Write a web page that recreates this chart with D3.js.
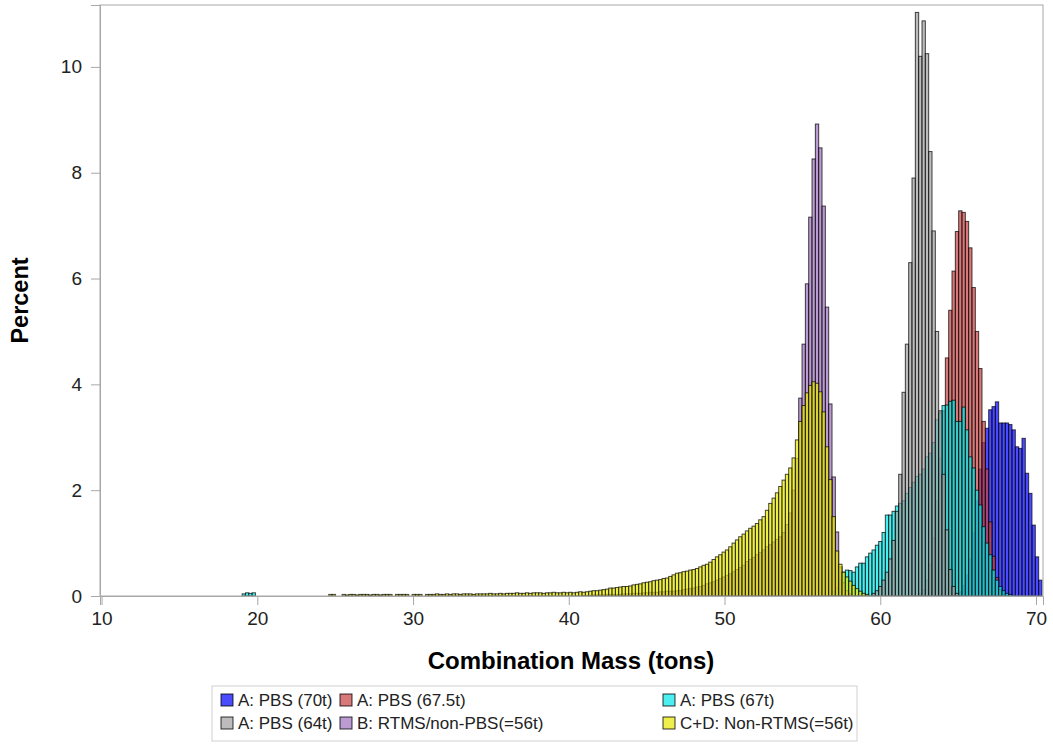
<!DOCTYPE html>
<html>
<head>
<meta charset="utf-8">
<script src="https://cdn.jsdelivr.net/npm/d3@7"></script>
<style>
  html, body { margin: 0; padding: 0; background: #fff; }
  svg { display: block; font-family: Arial, "Liberation Sans", sans-serif; }
</style>
</head>
<body>
<svg id="chart" width="1053" height="744"></svg>
<script>
// ---- Data (percent per bin; bins indexed k, center = binOrigin + k*binWidth) ----
const binWidth = 0.214;
const binOrigin = 55.94;

const seriesNames = ["A: PBS (70t)", "A: PBS (67.5t)", "A: PBS (67t)", "A: PBS (64t)", "B: RTMS/non-PBS(=56t)", "C+D: Non-RTMS(=56t)"];
const seriesColors = ["#0000ff", "#c84040", "#00e8e8", "#a0a0a0", "#a070c0", "#e8e800"];

const pbs70Start = 42;
const pbs70 = [0.03,0.08,0.2,0.4,0.7,1.2,1.8,2.4,2.9,3.17,3.52,3.58,3.67,3.27,3.27,3.27,3.24,3.14,2.82,2.79,2.98,2.32,1.94,1.34,0.74,0.3];

const pbs675Start = 31;
const pbs675 = [0.05,0.12,0.3,0.6,1.1,1.8,2.6,3.5,4.5,5.4,6.14,6.89,7.28,7.25,7.08,6.58,5.83,5.0,4.3,3.3,2.4,1.4,0.75,0.35,0.12,0.04];

const pbs67Start = 5;
const pbs67 = [0.08,0.15,0.3,0.45,0.49,0.48,0.45,0.55,0.62,0.62,0.74,0.81,0.87,0.96,1.03,1.2,1.53,1.53,1.6,1.7,1.75,1.8,1.94,2.05,2.15,2.26,2.3,2.4,2.63,2.7,2.9,3.33,3.46,3.6,3.61,3.68,3.7,3.3,3.3,3.57,3.14,2.63,2.42,2.0,1.72,1.31,1.0,0.78,0.49,0.3,0.18,0.1,0.05,0.03];
const pbs67LowStart = -172;
const pbs67Low = [0.04,0.06,0.05,0.06];

const pbs64Start = 17;
const pbs64 = [0.05,0.1,0.18,0.3,0.45,0.7,1.05,1.6,2.3,3.85,4.76,6.3,7.9,11.03,10.2,10.87,10.25,8.4,6.9,5.0,3.5,2.3,1.25,0.5,0.18,0.05];

const rtmsStart = -70;
const rtms = [0.01,0.01,0.01,0.02,0.02,0.02,0.02,0.03,0.03,0.03,
  0.03,0.03,0.04,0.04,0.04,0.05,0.05,0.05,0.06,0.06,
  0.07,0.07,0.07,0.08,0.08,0.09,0.09,0.09,0.1,0.1,
  0.12,0.13,0.14,0.15,0.17,0.18,0.2,0.23,0.25,0.27,
  0.3,0.33,0.36,0.39,0.42,0.46,0.5,0.54,0.58,0.65,
  0.69,0.73,0.78,0.82,0.87,0.93,0.97,1.02,1.07,1.12,
  1.2,1.35,1.57,2.0,2.6,3.74,4.76,5.9,7.16,8.26,
  8.92,8.47,7.37,5.46,3.63,2.25,1.21,0.55,0.25,0.1,0.04];

const nonRtmsStart = -146;
const nonRtms = [0.03,0.03,0,0,
  0.03,0.02,0.03,0.03,0.02,0.03,0.03,0.03,0.02,0.03,0.03,0.02,0.03,0.03,0.03,
  0,0.03,0.03,0.03,0.03,0,0.03,0.03,0.03,0,
  0.03,0.03,0.03,0.04,0.03,0.03,0.04,0.03,0.04,0.04,0.03,0.04,0.04,0.04,0.03,0.04,0.04,0.04,0.04,0.05,0.04,0.04,0.05,0.04,
  0.05,0.05,0.05,0.06,0.05,0.05,0.06,0.05,0.06,0.06,0.06,0.05,0.06,0.06,0.07,0.06,0.06,0.07,
  0.06,0.07,0.06,0.07,0.08,0.07,0.08,0.09,0.1,0.1,
  0.11,0.12,0.13,0.15,0.15,0.16,0.17,0.18,0.18,0.19,
  0.21,0.22,0.23,0.25,0.26,0.27,0.29,0.3,0.31,0.33,
  0.34,0.37,0.4,0.43,0.44,0.46,0.47,0.49,0.5,0.52,
  0.55,0.58,0.6,0.64,0.69,0.74,0.78,0.83,0.87,0.93,
  1.0,1.06,1.12,1.17,1.23,1.28,1.32,1.37,1.44,1.5,
  1.62,1.75,1.85,1.95,2.07,2.19,2.3,2.42,2.61,2.95,
  3.3,3.6,3.84,3.98,4.05,4.02,3.86,3.48,2.82,2.2,
  1.5,0.85,0.6,0.45,0.36,0.28,0.2,0.14,0.09,0.05,0.03];

const xTicks = [10, 20, 30, 40, 50, 60, 70];
const yTicks = [0, 2, 4, 6, 8, 10];

// ---- Build series ----
function toBins(start, vals) {
  return vals.map((v, i) => ({ c: binOrigin + (start + i) * binWidth, v }));
}
const series = [
  toBins(pbs70Start, pbs70),
  toBins(pbs675Start, pbs675),
  toBins(pbs67LowStart, pbs67Low).concat(toBins(pbs67Start, pbs67)),
  toBins(pbs64Start, pbs64),
  toBins(rtmsStart, rtms),
  toBins(nonRtmsStart, nonRtms)
];

// ---- Layout ----
const L = 100, R = 1043, T = 5, B = 596;
const svg = d3.select("#chart");
const x = d3.scaleLinear().domain([9.9, 70.45]).range([L, R]);
const y = d3.scaleLinear().domain([0, 11.17]).range([B, T]);

svg.append("defs").append("clipPath").attr("id", "plotclip")
  .append("rect").attr("x", L).attr("y", T).attr("width", R - L).attr("height", B - T);

const plot = svg.append("g").attr("clip-path", "url(#plotclip)");
series.forEach((bins, si) => {
  plot.append("g")
    .selectAll("rect")
    .data(bins.filter(d => d.v > 0))
    .join("rect")
    .attr("x", d => x(d.c - binWidth / 2))
    .attr("width", d => x(d.c + binWidth / 2) - x(d.c - binWidth / 2))
    .attr("y", d => y(d.v))
    .attr("height", d => y(0) - y(d.v))
    .attr("fill", seriesColors[si])
    .attr("fill-opacity", 0.7)
    .attr("stroke", "#000")
    .attr("stroke-opacity", 0.72)
    .attr("stroke-width", 1);
});

// Frame
svg.append("rect").attr("x", L).attr("y", T).attr("width", R - L).attr("height", B - T)
  .attr("fill", "none").attr("stroke", "#a8a8a8").attr("stroke-width", 1);

// Axes
const xAxis = svg.append("g").attr("transform", `translate(0,${B})`)
  .call(d3.axisBottom(x).tickValues(xTicks).tickSize(9).tickPadding(7).tickFormat(d3.format("d")));
const yAxis = svg.append("g").attr("transform", `translate(${L},0)`)
  .call(d3.axisLeft(y).tickValues(yTicks).tickSize(9).tickPadding(9).tickFormat(d3.format("d")));
[xAxis, yAxis].forEach(a => {
  a.select(".domain").attr("stroke", "#a8a8a8");
  a.selectAll(".tick line").attr("stroke", "#a8a8a8");
  a.selectAll(".tick text").attr("fill", "#222").style("font-size", "19px")
    .style("font-family", "Arial, 'Liberation Sans', sans-serif");
});

// Axis titles
svg.append("text").attr("x", 571).attr("y", 669).attr("text-anchor", "middle")
  .style("font-size", "24px").style("font-weight", "bold").attr("fill", "#000")
  .text("Combination Mass (tons)");
svg.append("text").attr("transform", `translate(28,${(T + B) / 2}) rotate(-90)`).attr("text-anchor", "middle")
  .style("font-size", "23.5px").style("font-weight", "bold").attr("fill", "#000")
  .text("Percent");

// Legend
const legend = svg.append("g");
legend.append("rect").attr("x", 212).attr("y", 686).attr("width", 645).attr("height", 55)
  .attr("fill", "#fff").attr("stroke", "#d0d0d0");
const colX = [221, 340, 663];
seriesNames.forEach((name, i) => {
  const cx = colX[i % 3], cy = i < 3 ? 700 : 723;
  legend.append("rect").attr("x", cx).attr("y", cy - 6).attr("width", 12).attr("height", 12)
    .attr("fill", seriesColors[i]).attr("fill-opacity", 0.7).attr("stroke", "#000").attr("stroke-opacity", 0.8);
  legend.append("text").attr("x", cx + 17).attr("y", cy + 6)
    .style("font-size", "17px").attr("fill", "#222").text(name);
});
</script>
</body>
</html>
